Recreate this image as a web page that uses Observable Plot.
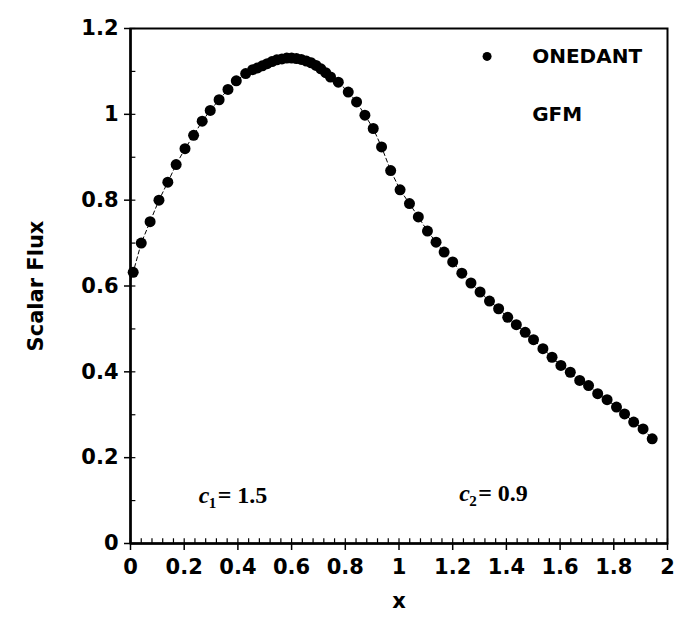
<!DOCTYPE html>
<html>
<head>
<meta charset="utf-8">
<script src="https://cdn.jsdelivr.net/npm/d3@7"></script>
<script src="https://cdn.jsdelivr.net/npm/@observablehq/plot@0.6"></script>
<style>
  body { margin: 0; background: #fff; }
</style>
</head>
<body>
<div id="chart"></div>
<script>
// ONEDANT sample positions and scalar flux values
const xPos = [
  0.010, 0.040, 0.073, 0.106, 0.139, 0.170, 0.203, 0.235, 0.267, 0.297,
  0.330, 0.363, 0.394, 0.429, 0.455,
  0.473, 0.491, 0.509, 0.527, 0.545, 0.564, 0.582, 0.600, 0.618, 0.636,
  0.655, 0.673, 0.691, 0.709, 0.727, 0.745,
  0.774, 0.811, 0.842, 0.873, 0.904, 0.935, 0.969,
  1.004, 1.039, 1.072, 1.106, 1.138, 1.168, 1.200, 1.234, 1.268, 1.302,
  1.337, 1.371, 1.405, 1.437, 1.470, 1.501, 1.536, 1.570, 1.603, 1.638,
  1.673, 1.706, 1.740, 1.775, 1.810, 1.840, 1.874, 1.909, 1.943
];
const flux = [
  0.632, 0.700, 0.750, 0.800, 0.842, 0.883, 0.920, 0.951, 0.984, 1.009,
  1.034, 1.058, 1.078, 1.095, 1.104,
  1.108, 1.113, 1.118, 1.123, 1.127, 1.129, 1.131, 1.131, 1.130, 1.128,
  1.124, 1.120, 1.114, 1.106, 1.097, 1.087,
  1.075, 1.052, 1.029, 0.998, 0.967, 0.924, 0.869,
  0.824, 0.792, 0.761, 0.728, 0.702, 0.679, 0.656, 0.630, 0.607, 0.586,
  0.565, 0.547, 0.527, 0.510, 0.492, 0.475, 0.454, 0.434, 0.415, 0.399,
  0.380, 0.368, 0.349, 0.335, 0.318, 0.302, 0.283, 0.267, 0.244
];
// GFM curve (agrees with ONEDANT; drawn as a thin line behind the dots)
const gfmX = [0.000].concat(xPos);
const gfmFlux = [0.612].concat(flux);

const xTicks = [0, 0.2, 0.4, 0.6, 0.8, 1, 1.2, 1.4, 1.6, 1.8, 2];
const xTickLabels = ["0", "0.2", "0.4", "0.6", "0.8", "1", "1.2", "1.4", "1.6", "1.8", "2"];
const yTicks = [0, 0.2, 0.4, 0.6, 0.8, 1, 1.2];
const yTickLabels = ["0", "0.2", "0.4", "0.6", "0.8", "1", "1.2"];
const xMinor = d3.range(0, 2.0001, 0.04);
const yMinor = d3.range(0, 1.2001, 0.1);

const legendItems = ["ONEDANT", "GFM"];
const annotations = [
  {x: 0.254, y: 0.112, sub: "1", value: "= 1.5"},
  {x: 1.224, y: 0.117, sub: "2", value: "= 0.9"}
];

const onedant = xPos.map((x, i) => ({x, flux: flux[i]}));
const gfm = gfmX.map((x, i) => ({x, flux: gfmFlux[i]}));

const sans = "DejaVu Sans, Liberation Sans, sans-serif";
const serif = "Liberation Serif, DejaVu Serif, serif";

const chart = Plot.plot({
  width: 679,
  height: 628,
  marginLeft: 130,
  marginRight: 12,
  marginTop: 28,
  marginBottom: 85,
  style: {fontFamily: sans, fontWeight: "bold", color: "black", background: "white"},
  x: {domain: [0, 2]},
  y: {domain: [0, 1.2]},
  marks: [
    Plot.axisX({
      ticks: xTicks, tickSize: 7, tickPadding: 9, fontSize: 21,
      tickFormat: d => xTickLabels[xTicks.indexOf(d)],
      label: "x", labelAnchor: "center", labelOffset: 64, labelArrow: "none",
      strokeWidth: 1.5
    }),
    Plot.axisY({
      ticks: yTicks, tickSize: 6, tickPadding: 6, fontSize: 21,
      tickFormat: d => yTickLabels[yTicks.indexOf(d)],
      label: "Scalar Flux", labelAnchor: "center", labelOffset: 102, labelArrow: "none",
      strokeWidth: 1.5
    }),
    Plot.ruleX(xMinor, {x: d => d, y1: 0, y2: 0.011, strokeWidth: 1.2}),
    Plot.ruleY(yMinor, {y: d => d, x1: 0, x2: 0.02, strokeWidth: 1.2}),
    Plot.frame({strokeWidth: 2}),
    Plot.ruleX([0], {strokeWidth: 2.5}),
    Plot.ruleY([0], {strokeWidth: 2.5}),
    Plot.line(gfm, {x: "x", y: "flux", stroke: "black", strokeWidth: 1, strokeDasharray: "4,3"}),
    Plot.dot(onedant, {x: "x", y: "flux", r: 5.5, fill: "black", stroke: null}),
    // legend
    Plot.dot([legendItems[0]], {x: () => 1.328, y: () => 1.135, r: 4.5, fill: "black"}),
    Plot.text(legendItems, {
      x: () => 1.496, y: (d, i) => (i === 0 ? 1.135 : 1.0), text: d => d,
      textAnchor: "start", fontSize: 20, fontWeight: "bold", fontFamily: sans, fill: "black"
    }),
    // annotations c1 = 1.5, c2 = 0.9
    Plot.text(annotations, {
      x: "x", y: "y", text: () => "c", textAnchor: "start",
      fontFamily: serif, fontStyle: "italic", fontWeight: "bold", fontSize: 24, fill: "black"
    }),
    Plot.text(annotations, {
      x: "x", y: "y", text: "sub", textAnchor: "start", dx: 10, dy: 8,
      fontFamily: serif, fontWeight: "bold", fontSize: 15, fill: "black"
    }),
    Plot.text(annotations, {
      x: "x", y: "y", text: "value", textAnchor: "start", dx: 19,
      fontFamily: serif, fontWeight: "bold", fontSize: 24, fill: "black"
    })
  ]
});

document.getElementById("chart").appendChild(chart);
</script>
</body>
</html>
